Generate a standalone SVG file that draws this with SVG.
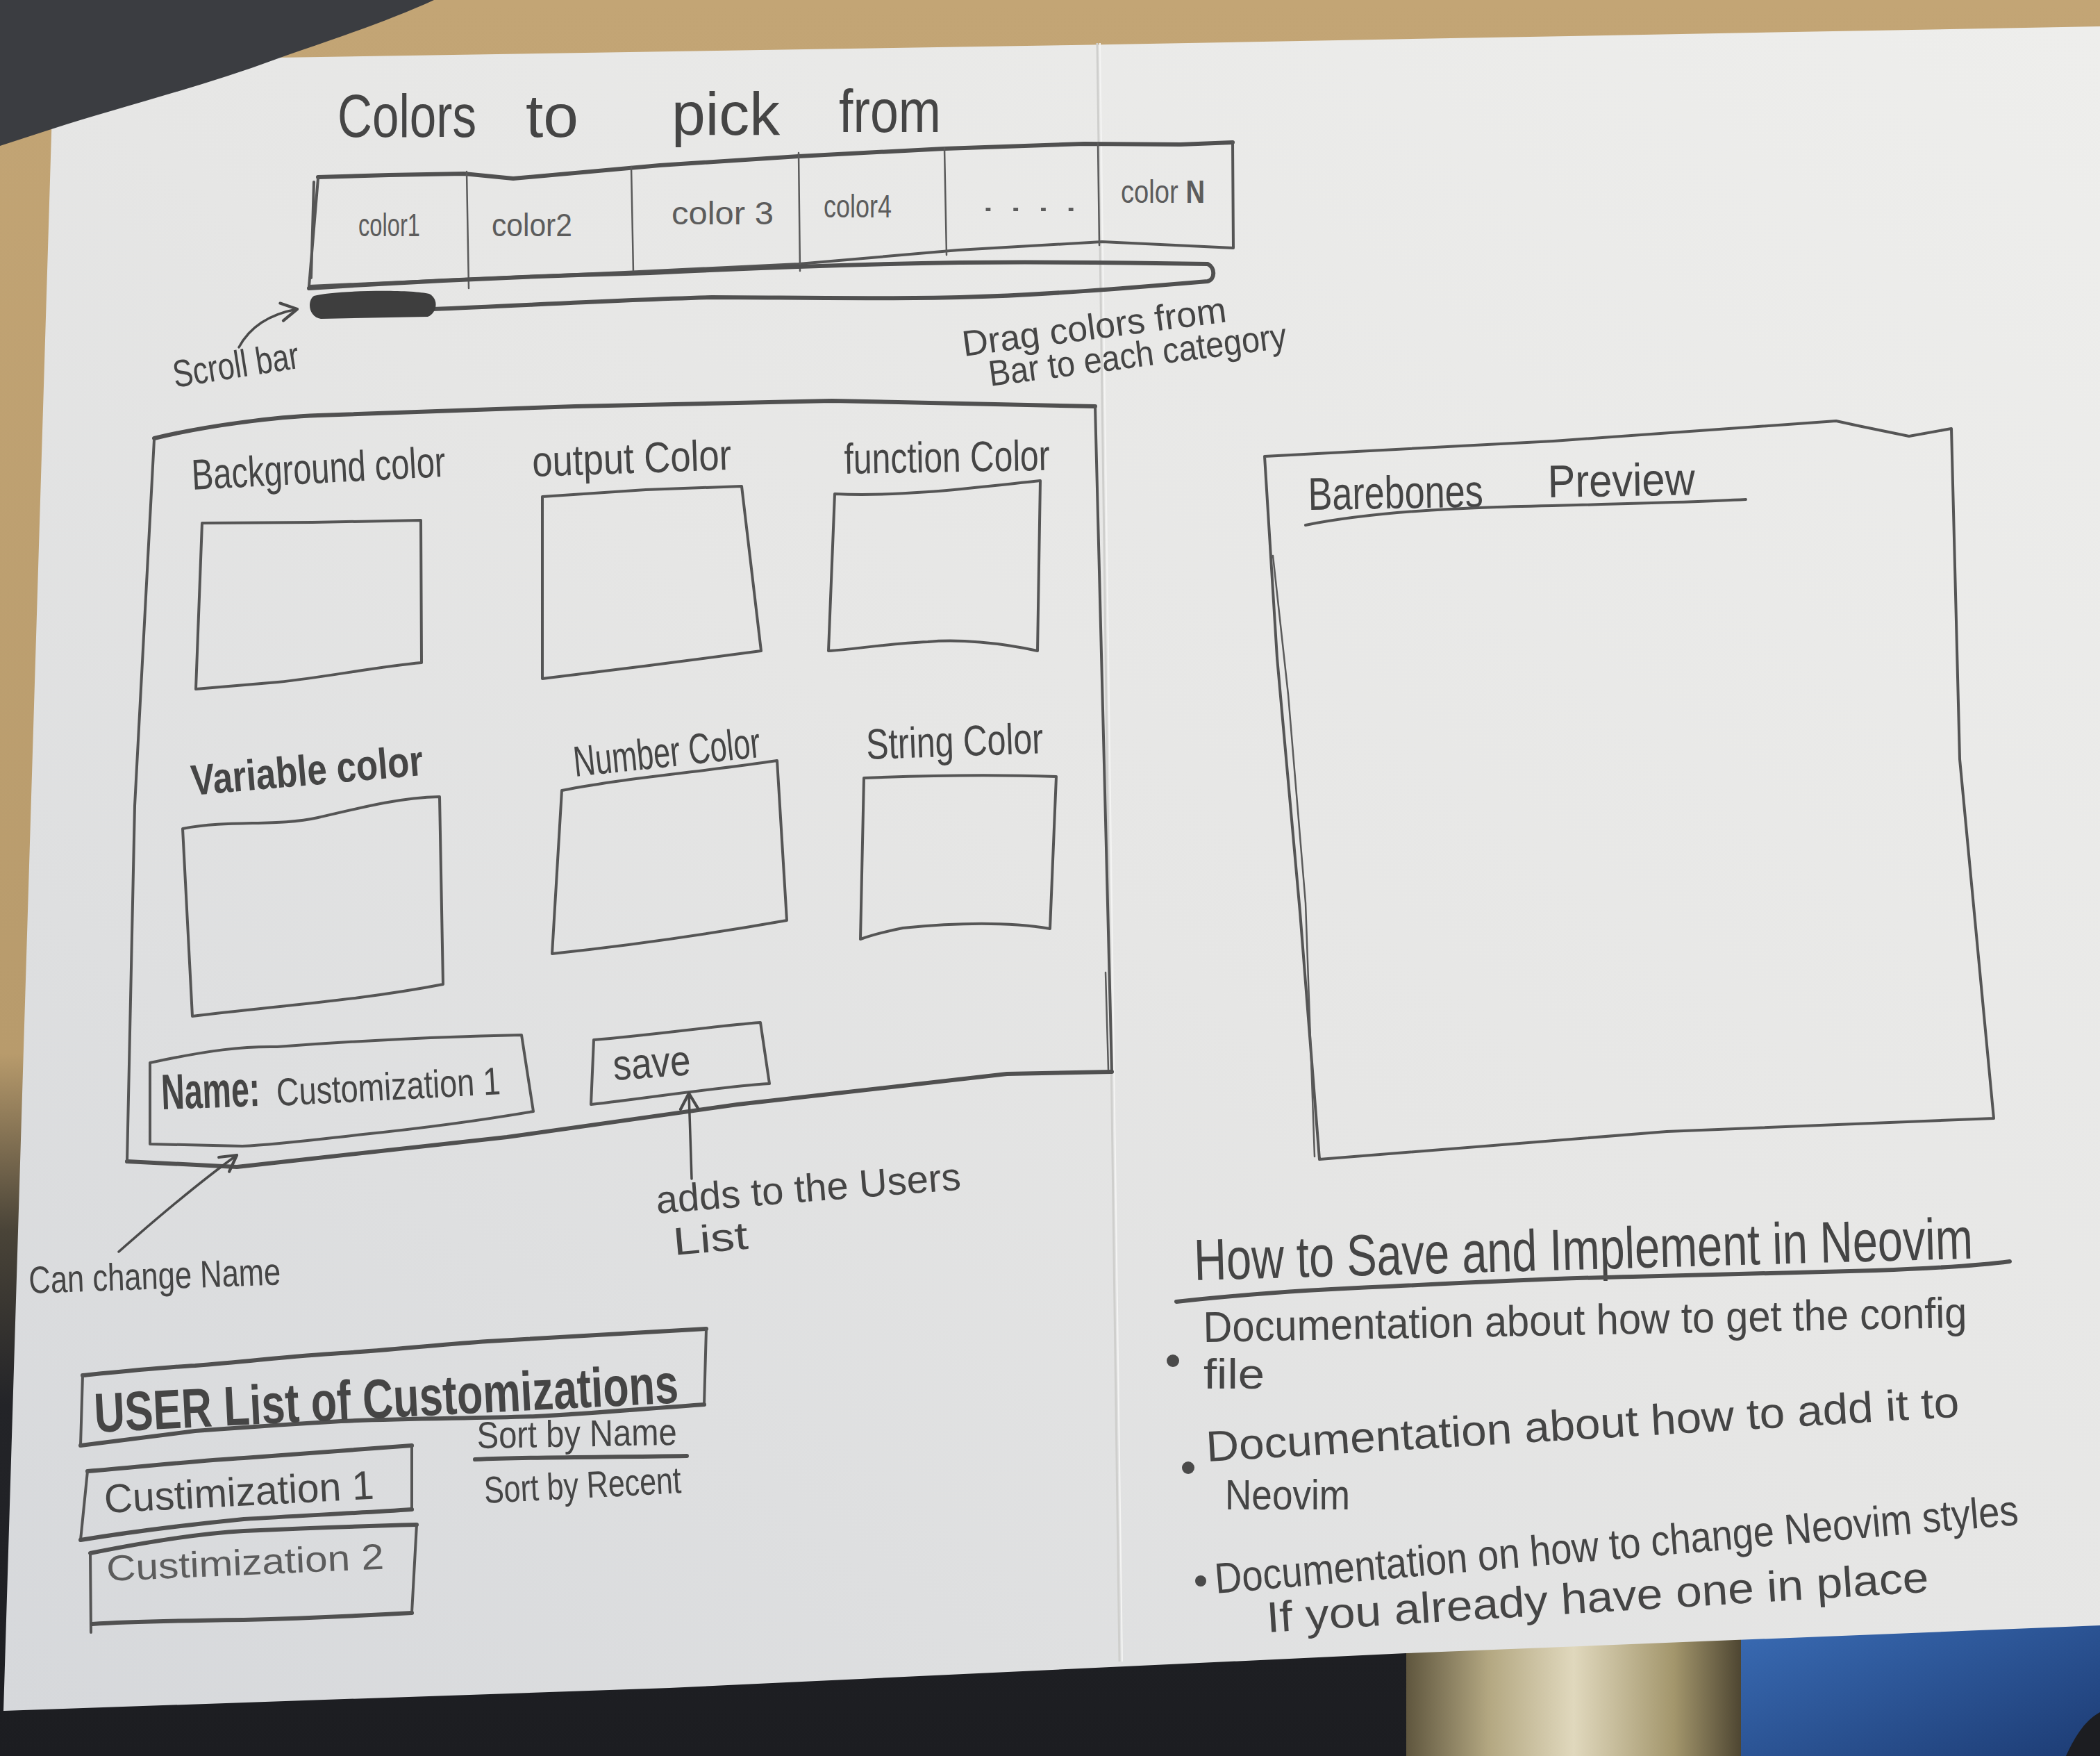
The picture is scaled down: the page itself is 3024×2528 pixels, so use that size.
<svg xmlns="http://www.w3.org/2000/svg" width="3024" height="2528" viewBox="0 0 3024 2528">
  <defs>
    <linearGradient id="deskGrad" x1="0" y1="0" x2="0" y2="1">
      <stop offset="0" stop-color="#c3a575"/>
      <stop offset="0.6" stop-color="#b89b6c"/>
      <stop offset="0.7" stop-color="#4a4438"/>
      <stop offset="0.8" stop-color="#232428"/>
      <stop offset="1" stop-color="#1c1d21"/>
    </linearGradient>
    <linearGradient id="paperGrad" x1="1" y1="0" x2="0" y2="1">
      <stop offset="0" stop-color="#eeeeec"/>
      <stop offset="0.5" stop-color="#e6e6e5"/>
      <stop offset="1" stop-color="#d6d8db"/>
    </linearGradient>
    <linearGradient id="goldGrad" x1="0" y1="0" x2="1" y2="0">
      <stop offset="0" stop-color="#5f563e"/>
      <stop offset="0.25" stop-color="#b4a882"/>
      <stop offset="0.5" stop-color="#e0d8bd"/>
      <stop offset="0.8" stop-color="#a3966c"/>
      <stop offset="1" stop-color="#4e4632"/>
    </linearGradient>
    <linearGradient id="blueGrad" x1="0" y1="0" x2="1" y2="1">
      <stop offset="0" stop-color="#3a6cb5"/>
      <stop offset="1" stop-color="#1d3c74"/>
    </linearGradient>
    <marker id="chev" viewBox="0 0 24 24" refX="20" refY="12" markerWidth="34" markerHeight="34" markerUnits="userSpaceOnUse" orient="auto">
      <path d="M4,3 L20,12 L4,21" fill="none" stroke="#4a4a4a" stroke-width="3" stroke-linecap="round" stroke-linejoin="round"/>
    </marker>
    <style>
      .pk { fill: none; stroke: #505050; stroke-width: 6; stroke-linecap: round; stroke-linejoin: round; }
      .pm { fill: none; stroke: #555555; stroke-width: 4; stroke-linecap: round; stroke-linejoin: round; }
      .pt { fill: none; stroke: #5a5a5a; stroke-width: 2.5; stroke-linecap: round; stroke-linejoin: round; }
      .hw { font-family: "Liberation Sans Narrow", "Liberation Sans", "DejaVu Sans", sans-serif; fill: #454545; }
      .lt { fill: #5c5c5c; }
      .bd { font-weight: bold; }
      .conn { fill: none; stroke: #4a4a4a; stroke-width: 3.5; stroke-linecap: round; marker-end: url(#chev); }
    </style>
  </defs>

  <!-- desk and surroundings -->
  <rect x="0" y="0" width="3024" height="2528" fill="url(#deskGrad)"/>
  <path d="M2025,2370 L2507,2345 L2507,2528 L2025,2528 Z" fill="url(#goldGrad)"/>
  <path d="M2507,2345 L3024,2330 L3024,2528 L2507,2528 Z" fill="url(#blueGrad)"/>
  <path d="M2975,2528 C2990,2495 3005,2475 3024,2465 L3024,2528 Z" fill="#1c1d21"/>

  <!-- sheet of paper -->
  <path d="M77,95 L398,83 L1543,65 L3024,38 L3024,2340 L2025,2380 L964,2430 L5,2463 Z" fill="url(#paperGrad)"/>
  <!-- centre fold -->
  <path d="M1580,62 L1612,2392" fill="none" stroke="#cfcfcd" stroke-width="3"/>
  <path d="M1584,62 L1616,2392" fill="none" stroke="#f4f4f3" stroke-width="2"/>

  <!-- dark object over the top-left corner -->
  <path d="M0,0 L625,0 C560,30 470,60 398,85 C290,125 170,155 77,185 L0,210 Z" fill="#3b3d41"/>

  <!-- palette of colours -->
  <g id="palette">
    <text class="hw" x="486" y="197" font-size="88" textLength="200" lengthAdjust="spacingAndGlyphs">Colors</text>
    <text class="hw" x="757" y="197" font-size="88" textLength="76" lengthAdjust="spacingAndGlyphs">to</text>
    <text class="hw" x="967" y="194" font-size="88" textLength="156" lengthAdjust="spacingAndGlyphs">pick</text>
    <text class="hw" x="1208" y="190" font-size="88" textLength="147" lengthAdjust="spacingAndGlyphs">from</text>
    <path class="pk" d="M458,255 L560,252 L668,250 L739,257 L950,238 L1150,225 L1360,214 L1561,207 L1700,208 L1775,205"/>
    <path class="pm" d="M1775,205 L1776,357 L1587,348 L1380,360 L1150,380 L900,392 L668,402 L445,412"/>
    <path class="pm" d="M458,257 L445,412 M452,262 L448,400"/>
    <path class="pt" d="M672,247 L675,415 M909,240 L912,393 M1150,220 L1152,390 M1360,213 L1363,367 M1581,206 L1583,353"/>
    <text class="hw lt" x="516" y="340" font-size="46" textLength="89" lengthAdjust="spacingAndGlyphs">color1</text>
    <text class="hw lt" x="708" y="340" font-size="46" textLength="116" lengthAdjust="spacingAndGlyphs">color2</text>
    <text class="hw lt" x="967" y="323" font-size="46" textLength="147" lengthAdjust="spacingAndGlyphs">color 3</text>
    <text class="hw lt" x="1186" y="313" font-size="46" textLength="98" lengthAdjust="spacingAndGlyphs">color4</text>
    <text class="hw lt" x="1413" y="304" font-size="46" textLength="139" lengthAdjust="spacingAndGlyphs">. . . .</text>
    <text class="hw lt" x="1614" y="292" font-size="46" textLength="121" lengthAdjust="spacingAndGlyphs">color <tspan class="bd">N</tspan></text>
  </g>

  <!-- scroll bar under the palette -->
  <g id="scrollbar">
    <path class="pk" d="M445,415 C600,405 780,397 936,393 C1100,385 1250,380 1382,378 C1500,377 1620,378 1739,380 C1750,385 1750,402 1739,405 C1620,415 1500,425 1382,428 C1250,431 1120,428 1025,428 C880,432 750,440 623,445"/>
    <path d="M452,426 C480,418 590,416 618,423 C632,430 630,450 616,456 L462,459 C444,456 442,433 452,426 Z" fill="#3e3e3e"/>
  </g>

  <g id="scroll-note">
    <text class="hw" x="252" y="558" font-size="55" textLength="183" lengthAdjust="spacingAndGlyphs" transform="rotate(-9 252 558)">Scroll bar</text>
  </g>

  <g id="drag-note">
    <text class="hw" x="1388" y="513" font-size="52" textLength="383" lengthAdjust="spacingAndGlyphs" transform="rotate(-7.5 1388 513)">Drag colors from</text>
    <text class="hw" x="1426" y="556" font-size="52" textLength="432" lengthAdjust="spacingAndGlyphs" transform="rotate(-7.4 1426 556)">Bar to each category</text>
  </g>

  <!-- customisation panel -->
  <g id="panel">
    <path class="pk" d="M222,631 C300,612 400,600 458,598 L828,585 L1198,577 L1577,585"/>
    <path class="pm" d="M1577,585 L1590,1100 L1601,1543"/>
    <path class="pk" d="M1601,1543 L1450,1546 L1062,1590 L730,1637 L341,1680 L183,1672"/>
    <path class="pm" d="M183,1672 L194,1160 L222,633"/>
    <path class="pt" d="M1592,1400 L1596,1540"/>
  </g>

  <g id="swatch-background">
    <text class="hw" x="277" y="705" font-size="62" textLength="366" lengthAdjust="spacingAndGlyphs" transform="rotate(-3 277 705)">Background color</text>
    <path class="pm" d="M291,753 L450,752 L606,749 L607,954 C540,960 470,975 400,982 L282,992 Z"/>
  </g>

  <g id="swatch-output">
    <text class="hw" x="767" y="686" font-size="62" textLength="287" lengthAdjust="spacingAndGlyphs" transform="rotate(-2 767 686)">output Color</text>
    <path class="pm" d="M781,715 L930,705 L1068,700 L1096,937 C1000,950 880,965 781,977 Z"/>
  </g>

  <g id="swatch-function">
    <text class="hw" x="1216" y="682" font-size="62" textLength="296" lengthAdjust="spacingAndGlyphs" transform="rotate(-1 1216 682)">function Color</text>
    <path class="pm" d="M1202,711 C1300,716 1420,700 1498,692 L1494,937 C1440,925 1380,920 1336,924 C1280,926 1230,935 1193,937 Z"/>
  </g>

  <g id="swatch-variable">
    <text class="hw bd" x="277" y="1145" font-size="62" textLength="335" lengthAdjust="spacingAndGlyphs" transform="rotate(-5 277 1145)">Variable color</text>
    <path class="pm" d="M263,1193 C330,1180 400,1190 458,1177 C530,1160 580,1148 633,1147 L638,1417 C520,1440 400,1448 277,1463 Z"/>
  </g>

  <g id="swatch-number">
    <text class="hw" x="828" y="1118" font-size="62" textLength="270" lengthAdjust="spacingAndGlyphs" transform="rotate(-6 828 1118)">Number Color</text>
    <path class="pm" d="M809,1138 C900,1120 1020,1110 1119,1095 L1133,1325 C1020,1345 900,1362 795,1373 Z"/>
  </g>

  <g id="swatch-string">
    <text class="hw" x="1248" y="1093" font-size="62" textLength="255" lengthAdjust="spacingAndGlyphs" transform="rotate(-2 1248 1093)">String Color</text>
    <path class="pm" d="M1244,1120 C1340,1116 1440,1115 1521,1118 L1512,1337 C1440,1325 1360,1330 1300,1336 C1270,1342 1250,1348 1239,1352 Z"/>
  </g>

  <g id="name-field">
    <path class="pm" d="M216,1530 C300,1512 350,1506 399,1507 C520,1498 650,1492 751,1490 L768,1600 C680,1615 600,1625 523,1633 C460,1640 400,1648 349,1650 L216,1647 Z"/>
    <text class="hw bd" x="233" y="1597" font-size="72" textLength="142" lengthAdjust="spacingAndGlyphs" transform="rotate(-2 233 1597)">Name:</text>
    <text class="hw" x="399" y="1592" font-size="56" textLength="323" lengthAdjust="spacingAndGlyphs" transform="rotate(-3 399 1592)">Customization 1</text>
  </g>

  <g id="save-button">
    <path class="pm" d="M855,1497 C940,1490 1020,1478 1095,1472 L1108,1560 C1030,1565 940,1580 851,1590 Z"/>
    <text class="hw" x="884" y="1555" font-size="62" textLength="112" lengthAdjust="spacingAndGlyphs" transform="rotate(-4 884 1555)">save</text>
  </g>

  <g id="save-note">
    <text class="hw" x="946" y="1747" font-size="56" textLength="440" lengthAdjust="spacingAndGlyphs" transform="rotate(-4.5 946 1747)">adds to the Users</text>
    <text class="hw" x="971" y="1807" font-size="56" textLength="108" lengthAdjust="spacingAndGlyphs" transform="rotate(-5 971 1807)">List</text>
  </g>

  <g id="name-note">
    <text class="hw" x="42" y="1862" font-size="55" textLength="363" lengthAdjust="spacingAndGlyphs" transform="rotate(-2 42 1862)">Can change Name</text>
  </g>

  <!-- saved customisations list -->
  <g id="user-list">
    <path class="pk" d="M119,1980 C200,1972 240,1968 281,1966 C360,1960 420,1952 491,1948 C580,1942 640,1935 702,1931 C820,1925 920,1918 1017,1913"/>
    <path class="pm" d="M1017,1913 L1014,2022"/>
    <path class="pk" d="M1014,2022 C930,2028 850,2035 772,2039 C680,2042 580,2042 491,2046 C420,2050 350,2055 281,2060 C220,2068 160,2075 116,2081"/>
    <path class="pm" d="M119,1980 L116,2081"/>
    <text class="hw bd" x="137" y="2062" font-size="80" textLength="842" lengthAdjust="spacingAndGlyphs" transform="rotate(-2.9 137 2062)">USER List of Customizations</text>
  </g>

  <g id="sort-options">
    <text class="hw" x="687" y="2085" font-size="54" textLength="288" lengthAdjust="spacingAndGlyphs" transform="rotate(-1 687 2085)">Sort by Name</text>
    <path class="pk" d="M684,2101 C780,2097 880,2098 989,2096"/>
    <text class="hw" x="698" y="2164" font-size="54" textLength="284" lengthAdjust="spacingAndGlyphs" transform="rotate(-3 698 2164)">Sort by Recent</text>
  </g>

  <g id="list-item-1">
    <path class="pk" d="M126,2118 C200,2112 280,2103 351,2099 C440,2092 520,2086 593,2081"/>
    <path class="pm" d="M593,2081 L593,2173 M126,2118 L116,2217"/>
    <path class="pk" d="M593,2173 C520,2178 430,2182 351,2187 C270,2195 190,2205 116,2217"/>
    <text class="hw" x="151" y="2178" font-size="58" textLength="389" lengthAdjust="spacingAndGlyphs" transform="rotate(-3 151 2178)">Custimization 1</text>
  </g>

  <g id="list-item-2">
    <path class="pk" d="M130,2236 C200,2222 280,2208 351,2204 C440,2200 520,2197 600,2195"/>
    <path class="pm" d="M600,2195 L593,2322 M130,2236 L131,2350"/>
    <path class="pk" d="M593,2322 C520,2326 430,2330 351,2332 C270,2333 190,2334 133,2338"/>
    <text class="hw lt" x="154" y="2276" font-size="52" textLength="400" lengthAdjust="spacingAndGlyphs" transform="rotate(-2.5 154 2276)">Custimization 2</text>
  </g>

  <!-- preview pane -->
  <g id="preview">
    <path class="pm" d="M1821,657 L2237,635 L2644,606 L2676,613 L2749,628 L2810,617 L2822,1093 L2871,1610 L2400,1629 L1900,1669 L1872,1313 L1839,947 Z"/>
    <path class="pt" d="M1833,800 L1855,1000 L1880,1300 L1893,1665"/>
    <text class="hw" x="1884" y="734" font-size="66" textLength="252" lengthAdjust="spacingAndGlyphs" transform="rotate(-1 1884 734)">Barebones</text>
    <text class="hw" x="2229" y="716" font-size="66" textLength="212" lengthAdjust="spacingAndGlyphs" transform="rotate(-1 2229 716)">Preview</text>
    <path class="pm" d="M1880,756 C1960,740 2060,733 2156,730 C2300,726 2420,724 2514,719"/>
  </g>

  <!-- save / implement notes -->
  <g id="neovim-notes">
    <text class="hw" x="1720" y="1843" font-size="84" textLength="1122" lengthAdjust="spacingAndGlyphs" transform="rotate(-1.6 1720 1843)">How to Save and Implement in Neovim</text>
    <path class="pk" d="M1694,1874 C1800,1862 1900,1856 2000,1852 C2120,1846 2240,1840 2351,1838 C2480,1834 2600,1832 2701,1829 C2780,1826 2850,1822 2894,1816"/>
    <circle cx="1689" cy="1959" r="9" fill="#4a4a4a"/>
    <text class="hw" x="1733" y="1932" font-size="62" textLength="1100" lengthAdjust="spacingAndGlyphs" transform="rotate(-1.1 1733 1932)">Documentation about how to get the config</text>
    <text class="hw" x="1733" y="1999" font-size="62" textLength="88" lengthAdjust="spacingAndGlyphs">file</text>
    <circle cx="1711" cy="2113" r="9" fill="#4a4a4a"/>
    <text class="hw" x="1738" y="2104" font-size="62" textLength="1086" lengthAdjust="spacingAndGlyphs" transform="rotate(-3.4 1738 2104)">Documentation about how to add it to</text>
    <text class="hw" x="1764" y="2173" font-size="62" textLength="180" lengthAdjust="spacingAndGlyphs">Neovim</text>
    <circle cx="1729" cy="2276" r="8" fill="#4a4a4a"/>
    <text class="hw" x="1751" y="2294" font-size="62" textLength="1161" lengthAdjust="spacingAndGlyphs" transform="rotate(-4.9 1751 2294)">Documentation on how to change Neovim styles</text>
    <text class="hw" x="1825" y="2350" font-size="62" textLength="955" lengthAdjust="spacingAndGlyphs" transform="rotate(-3.5 1825 2350)">If you already have one in place</text>
  </g>

  <!-- pointer arrows -->
  <g id="connectors">
    <path class="conn" d="M344,500 C360,470 390,452 428,445"/>
    <path class="conn" d="M171,1802 C230,1750 290,1700 341,1663"/>
    <path class="conn" d="M996,1697 L992,1574"/>
  </g>
</svg>
